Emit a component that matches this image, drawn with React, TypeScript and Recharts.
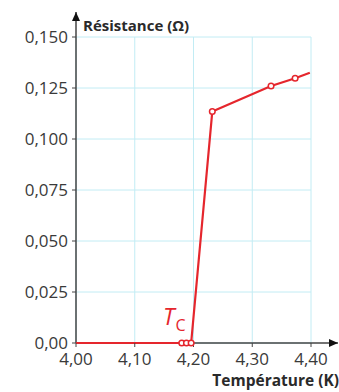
import { LineChart, Line, XAxis, YAxis, CartesianGrid, ReferenceLine, ReferenceDot } from "recharts";

const temperatures = [4.0, 4.18, 4.188, 4.196, 4.232, 4.332, 4.373, 4.398];
const resistances = [0, 0, 0, 0, 0.1135, 0.126, 0.1298, 0.1325];
const marked = [false, true, true, true, true, true, true, false];

const xTicks = [4.0, 4.1, 4.2, 4.3, 4.4];
const yTicks = [0, 0.025, 0.05, 0.075, 0.1, 0.125, 0.15];

const RED = "#e5262d";
const AXIS = "#444";
const FONT = "'Open Sans', sans-serif";

const data = temperatures.map((t, i) => ({ t, r: resistances[i], marked: marked[i] }));

const fmtX = (v: number) => v.toFixed(2).replace(".", ",");
const fmtY = (v: number) => (v === 0 ? "0,00" : v.toFixed(3).replace(".", ","));

const Dot = (props: any) => {
  const { cx, cy, payload, index } = props;
  if (!payload.marked) return <g key={index} />;
  return <circle key={index} cx={cx} cy={cy} r={2.8} fill="#fff" stroke={RED} strokeWidth={1.5} />;
};

// axe avec flèche au bout
const ArrowAxis = (props: any) => {
  const { x1, y1, x2, y2 } = props;
  const horizontal = Math.abs(y2 - y1) < 1;
  const head = horizontal
    ? `${x2},${y2} ${x2 - 9},${y2 - 4} ${x2 - 9},${y2 + 4}`
    : `${x2},${y2} ${x2 - 4},${y2 + 9} ${x2 + 4},${y2 + 9}`;
  return (
    <g>
      <line x1={x1} y1={y1} x2={x2} y2={y2} stroke={AXIS} strokeWidth={1.5} />
      <polygon points={head} fill="#111" />
    </g>
  );
};

export default function App() {
  return (
    <div style={{ position: "absolute", left: 0, top: 0, background: "#fff" }}>
      <LineChart width={339} height={392} data={data} margin={{ top: 37, right: 28, bottom: 19, left: 0 }}>
        <CartesianGrid stroke="#c2ecf4" strokeWidth={1} verticalValues={xTicks} horizontalValues={yTicks} />
        <XAxis
          dataKey="t"
          type="number"
          domain={[4.0, 4.4]}
          ticks={xTicks}
          tickFormatter={fmtX}
          axisLine={false}
          tickLine={{ stroke: AXIS }}
          tickSize={4}
          tickMargin={6}
          height={30}
          tick={{ fontSize: 17, fill: "#3a3a3a", fontFamily: FONT }}
          label={{
            content: ({ viewBox }: any) => (
              <text x={viewBox.x + viewBox.width + 28} y={viewBox.y + 43} textAnchor="end" fontSize={15.5} fontWeight="bold" fill="#2a2a2a" fontFamily={FONT}>
                Température (K)
              </text>
            ),
          }}
        />
        <YAxis
          type="number"
          domain={[0, 0.15]}
          ticks={yTicks}
          tickFormatter={fmtY}
          axisLine={false}
          tickLine={{ stroke: AXIS }}
          tickSize={4}
          tickMargin={4}
          width={76}
          tick={{ fontSize: 17, fill: "#3a3a3a", fontFamily: FONT }}
          label={{
            content: ({ viewBox }: any) => (
              <text x={viewBox.x + viewBox.width + 7} y={viewBox.y - 6} fontSize={15} fontWeight="bold" fill="#2a2a2a" fontFamily={FONT}>
                Résistance (Ω)
              </text>
            ),
          }}
        />
        <ReferenceLine segment={[{ x: 4.0, y: 0 }, { x: 4.446, y: 0 }]} ifOverflow="visible" shape={ArrowAxis} />
        <ReferenceLine segment={[{ x: 4.0, y: 0 }, { x: 4.0, y: 0.1622 }]} ifOverflow="visible" shape={ArrowAxis} />
        <Line
          type="linear"
          dataKey="r"
          stroke={RED}
          strokeWidth={2.2}
          dot={Dot}
          activeDot={false}
          isAnimationActive={false}
        />
        <ReferenceDot
          x={4.148}
          y={0.0087}
          r={0}
          ifOverflow="visible"
          shape={(p: any) => (
            <text x={p.cx} y={p.cy} fill={RED} fontFamily={FONT}>
              <tspan fontSize={23} fontStyle="italic">T</tspan>
              <tspan fontSize={16} dx={1} dy={6}>C</tspan>
            </text>
          )}
        />
      </LineChart>
    </div>
  );
}
